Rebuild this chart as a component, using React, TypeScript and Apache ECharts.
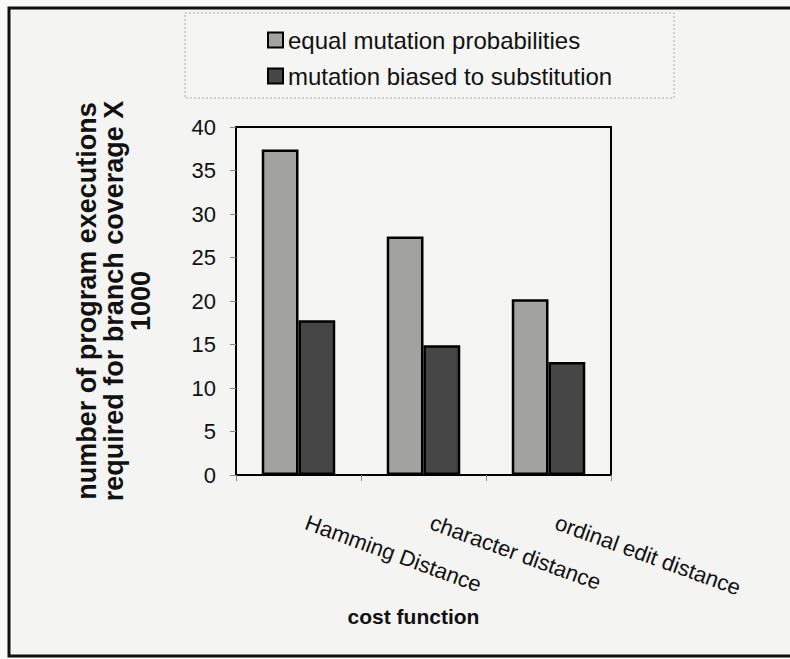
import React, { useEffect, useRef } from "react";
import * as echarts from "echarts";

const categories = ["Hamming Distance", "character distance", "ordinal edit distance"];
const seriesNames = ["equal mutation probabilities", "mutation biased to substitution"];
const equalValues = [37.4, 27.4, 20.2];
const biasedValues = [17.8, 14.9, 13.0];
const yTitle = "number of program executions\nrequired for branch coverage X\n1000";
const xTitle = "cost function";

const FONT = "'Liberation Sans', Arial, Helvetica, sans-serif";

export default function App() {
  const ref = useRef<HTMLDivElement>(null);
  useEffect(() => {
    document.body.style.margin = "0";
    if (!ref.current) return;
    const chart = echarts.init(ref.current, null, { renderer: "svg" });
    chart.setOption({
      animation: false,
      backgroundColor: "#fafaf9",
      graphic: [
        {
          type: "rect",
          z: -10,
          shape: { x: 9, y: 8, width: 800, height: 648 },
          style: { fill: "#f4f4f2", stroke: "#111", lineWidth: 3 },
        },
        {
          type: "rect",
          z: -9,
          shape: { x: 185, y: 13, width: 489, height: 85 },
          style: { fill: "#f5f5f3", stroke: "#aaa", lineWidth: 1, lineDash: [2, 2] },
        },
      ],
      legend: {
        orient: "vertical",
        left: 262,
        top: 21,
        itemWidth: 15,
        itemHeight: 15,
        itemGap: 8,
        icon: "rect",
        textStyle: { fontSize: 24, lineHeight: 28, fontFamily: FONT, color: "#111" },
        data: seriesNames,
      },
      grid: {
        left: 236,
        top: 127,
        right: 179,
        bottom: 184,
        show: true,
        borderColor: "#000",
        borderWidth: 2,
        backgroundColor: "#f5f5f3",
      },
      xAxis: {
        type: "category",
        data: categories,
        name: xTitle,
        nameLocation: "middle",
        nameGap: 130,
        nameMoveOverlap: false,
        nameTextStyle: {
          fontSize: 21,
          fontWeight: "bold",
          fontFamily: FONT,
          color: "#111",
          lineHeight: 22,
          padding: [0, 20, 0, 0],
        },
        axisLine: { lineStyle: { color: "#000", width: 2 } },
        axisTick: { show: true, length: 6, lineStyle: { color: "#888" } },
        axisLabel: {
          rotate: -20,
          margin: 44,
          fontSize: 22,
          fontFamily: FONT,
          color: "#111",
          padding: [0, 0, 0, 8],
          interval: 0,
        },
      },
      yAxis: {
        type: "value",
        min: 0,
        max: 40,
        interval: 5,
        name: yTitle,
        nameLocation: "middle",
        nameRotate: 90,
        nameGap: 82,
        nameMoveOverlap: false,
        nameTextStyle: {
          fontSize: 27,
          fontWeight: "bold",
          fontFamily: FONT,
          color: "#111",
          lineHeight: 27,
          align: "center",
        },
        splitLine: { show: false },
        axisLine: { show: true, lineStyle: { color: "#000", width: 2 } },
        axisTick: { show: true, length: 6, lineStyle: { color: "#888" } },
        axisLabel: { margin: 20, fontSize: 22, fontFamily: FONT, color: "#111" },
      },
      series: [
        {
          name: seriesNames[0],
          type: "bar",
          data: equalValues,
          barWidth: "29.4%",
          barGap: "0%",
          itemStyle: { color: "#a2a2a0", borderColor: "#000", borderWidth: 2.5 },
        },
        {
          name: seriesNames[1],
          type: "bar",
          data: biasedValues,
          barWidth: "29.4%",
          barGap: "0%",
          itemStyle: { color: "#464646", borderColor: "#000", borderWidth: 2.5 },
        },
      ],
    });
    return () => chart.dispose();
  }, []);
  return <div ref={ref} style={{ width: 790, height: 659 }} />;
}
